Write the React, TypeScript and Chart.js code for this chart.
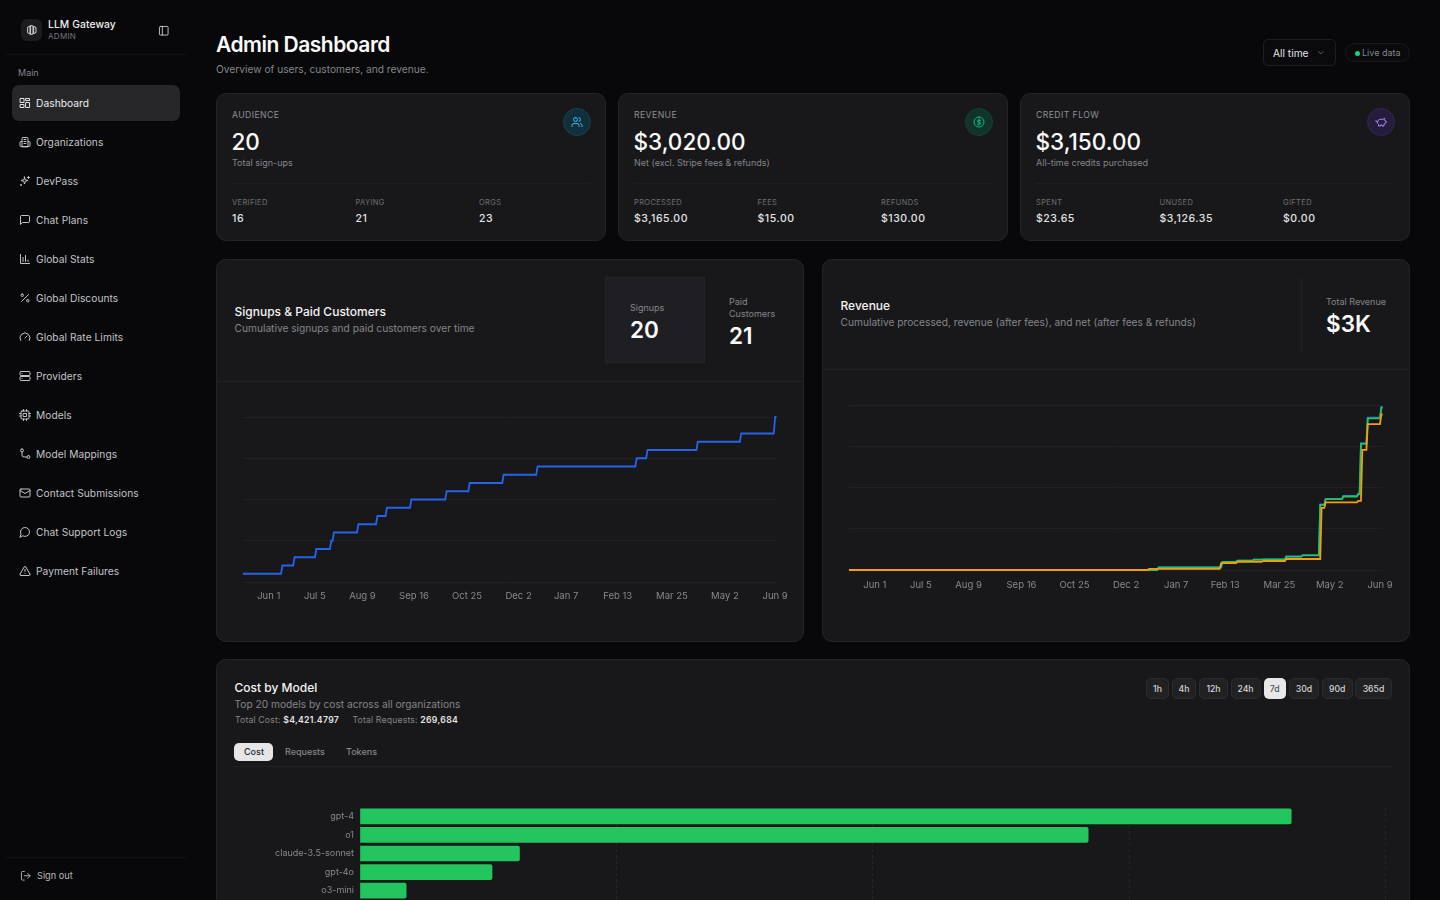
import { useEffect, useRef } from "react"
import { Chart, registerables } from "chart.js"

Chart.register(...registerables)
Chart.defaults.font.family = "Inter, sans-serif"

// x axis of both line charts: days counted from the first date in the range
const rangeDays = 393
const signupTickDays = [19, 53, 88, 126, 165, 203, 238, 276, 316, 355, 392]
const revenueTickDays = [19, 53, 88, 127, 166, 204, 241, 277, 317, 354, 391]
const tickLabels = ["Jun 1", "Jul 5", "Aug 9", "Sep 16", "Oct 25", "Dec 2", "Jan 7", "Feb 13", "Mar 25", "May 2", "Jun 9"]

const signupDays = [29, 38, 54, 65, 67, 85, 99, 106, 124, 150, 167, 192, 217, 290, 298, 335, 367, 392]
const signupValues = [2, 3, 4, 5, 6, 7, 8, 9, 10, 11, 12, 13, 14, 15, 16, 17, 18, 20]

const processedDays = [228, 275, 286, 298, 305, 322, 334, 347, 351, 364, 375, 377, 382, 392]
const processedValues = [50, 156, 182, 203, 208, 262, 288, 1270, 1380, 1435, 1480, 2460, 2955, 3165]

const revenueDays = [228, 275, 286, 298, 305, 322, 334, 347, 351, 364, 375, 377, 382, 392]
const revenueValues = [50, 155, 180, 200, 205, 258, 284, 1263, 1373, 1425, 1470, 2445, 2940, 3150]

const netDays = [221, 274, 286, 305, 322, 348, 351, 375, 378, 382, 392]
const netValues = [20, 135, 160, 175, 213, 1205, 1310, 1340, 2330, 2830, 3020]

const modelNames = ["gpt-4", "o1", "claude-3.5-sonnet", "gpt-4o", "o3-mini"]
const modelCosts = [1816, 1420, 311, 257.5, 90]

const navItems = [
  "Dashboard", "Organizations", "DevPass", "Chat Plans", "Global Stats", "Global Discounts", "Global Rate Limits",
  "Providers", "Models", "Model Mappings", "Contact Submissions", "Chat Support Logs", "Payment Failures",
]

const icons: Record<string, string> = {
  Dashboard: "M3 3h7v8H3z M14 3h7v4h-7z M14 11h7v10h-7z M3 15h7v6H3z",
  Organizations: "M6 21V5a2 2 0 0 1 2-2h8a2 2 0 0 1 2 2v16z M6 11H4a2 2 0 0 0-2 2v6a2 2 0 0 0 2 2h16a2 2 0 0 0 2-2v-6a2 2 0 0 0-2-2h-2 M10 7h4 M10 11h4 M10 15h4",
  DevPass: "M11 4l1.5 5.5L18 11l-5.5 1.5L11 18l-1.5-5.5L4 11l5.5-1.5z M19 3v4 M17 5h4 M4 19v2 M3 20h2",
  "Chat Plans": "M21 15a2 2 0 0 1-2 2H7l-4 4V5a2 2 0 0 1 2-2h14a2 2 0 0 1 2 2z",
  "Global Stats": "M3 3v18h18 M8 17V9 M13 17V5 M18 17v-3",
  "Global Discounts": "M19 5 5 19 M6.5 4a2.5 2.5 0 1 0 0 5a2.5 2.5 0 1 0 0-5z M17.5 15a2.5 2.5 0 1 0 0 5a2.5 2.5 0 1 0 0-5z",
  "Global Rate Limits": "M12 14l4-4 M3.34 19a10 10 0 1 1 17.32 0",
  Providers: "M4 3h16a2 2 0 0 1 2 2v4a2 2 0 0 1-2 2H4a2 2 0 0 1-2-2V5a2 2 0 0 1 2-2z M4 13h16a2 2 0 0 1 2 2v4a2 2 0 0 1-2 2H4a2 2 0 0 1-2-2v-4a2 2 0 0 1 2-2z M6 7h.01 M6 17h.01",
  Models: "M6 4h12a2 2 0 0 1 2 2v12a2 2 0 0 1-2 2H6a2 2 0 0 1-2-2V6a2 2 0 0 1 2-2z M9 9h6v6H9z M9 1v3 M15 1v3 M9 20v3 M15 20v3 M20 9h3 M20 14h3 M1 9h3 M1 14h3",
  "Model Mappings": "M6 2a3 3 0 1 0 0 6a3 3 0 1 0 0-6z M19 15a3 3 0 1 0 0 6a3 3 0 1 0 0-6z M6 8v6a4 4 0 0 0 4 4h6",
  "Contact Submissions": "M4 4h16a2 2 0 0 1 2 2v12a2 2 0 0 1-2 2H4a2 2 0 0 1-2-2V6a2 2 0 0 1 2-2z M22 7l-10 6L2 7",
  "Chat Support Logs": "M7.9 20A9 9 0 1 0 4 16.1L2 22Z",
  "Payment Failures": "M21.73 18l-8-14a2 2 0 0 0-3.46 0l-8 14A2 2 0 0 0 4 21h16a2 2 0 0 0 1.73-3Z M12 9v4 M12 17h.01",
  signOut: "M9 21H5a2 2 0 0 1-2-2V5a2 2 0 0 1 2-2h4 M16 17l5-5-5-5 M21 12H9",
  panel: "M5 3h14a2 2 0 0 1 2 2v14a2 2 0 0 1-2 2H5a2 2 0 0 1-2-2V5a2 2 0 0 1 2-2z M9 3v18",
  chevron: "M6 9l6 6 6-6",
  users: "M9 3a4 4 0 1 0 0 8a4 4 0 1 0 0-8z M2 21v-2a4 4 0 0 1 4-4h6a4 4 0 0 1 4 4v2 M16 3.1a4 4 0 0 1 0 7.8 M22 21v-2a4 4 0 0 0-3-3.9",
  dollar: "M12 2a10 10 0 1 0 0 20a10 10 0 1 0 0-20z M15 8.5h-4a2 2 0 0 0 0 4h2a2 2 0 0 1 0 4H9 M12 18V6",
  piggy: "M19 5c-1.5 0-2.8 1.4-3 2-3.5-1.5-11-.3-11 5 0 1.8 0 3 2 4.5V20h4v-2h3v2h4v-4c1-.5 1.7-1 2-2h2v-4h-2c0-1-.5-1.5-1-2z M2 9v1c0 1.1.9 2 2 2h1",
  logo: "M4 6l4-2v16l-4-2z M10 3l4 1v16l-4 1z M16 5l4 2v10l-4 2z",
}

function stepPoints(days: number[], values: number[], start = 0) {
  const points = [{ x: 0, y: start }]
  let prev = start
  days.forEach((day, i) => {
    points.push({ x: day - 1, y: prev }, { x: day, y: values[i] })
    prev = values[i]
  })
  points.push({ x: rangeDays, y: prev })
  return points
}

const gridColor = "#212124"

function dayAxis(days: number[], height: number, padding: number) {
  return {
    type: "linear",
    min: 0,
    max: rangeDays,
    grid: { display: false, drawTicks: false },
    border: { display: false },
    afterBuildTicks: (scale: any) => {
      scale.ticks = days.map((value) => ({ value }))
    },
    afterFit: (scale: any) => {
      scale.paddingLeft = 0
      scale.paddingRight = 0
      scale.height = height
    },
    ticks: {
      autoSkip: false,
      maxRotation: 0,
      padding,
      color: "#88888e",
      font: { size: 9.5 },
      callback: (value: number) => tickLabels[days.indexOf(value)],
    },
  }
}

function valueAxis(max: number, stepSize: number) {
  return {
    min: 0,
    max,
    border: { display: false },
    grid: { color: gridColor, drawTicks: false, lineWidth: 1 },
    ticks: { display: false, stepSize },
  }
}

const signupsConfig: any = {
  type: "line",
  data: {
    datasets: [
      { label: "Signups", data: stepPoints(signupDays, signupValues, 1), borderColor: "#2563eb", borderWidth: 1.8, pointRadius: 0, clip: false },
    ],
  },
  options: {
    responsive: false,
    animation: false,
    layout: { padding: { left: 26, right: 26.5, top: 35, bottom: 0 } },
    plugins: { legend: { display: false }, tooltip: { enabled: false } },
    scales: { x: dayAxis(signupTickDays, 59, 8), y: valueAxis(20, 5) },
  },
}

const revenueConfig: any = {
  type: "line",
  data: {
    datasets: [
      { label: "Processed", order: 3, data: stepPoints(processedDays, processedValues), borderColor: "#2563eb", borderWidth: 1.8, pointRadius: 0, clip: false },
      { label: "Revenue", order: 2, data: stepPoints(revenueDays, revenueValues), borderColor: "#22c55e", borderWidth: 1.8, pointRadius: 0, clip: false },
      { label: "Net", order: 1, data: stepPoints(netDays, netValues), borderColor: "#f59e0b", borderWidth: 1.8, pointRadius: 0, clip: false },
    ],
  },
  options: {
    responsive: false,
    animation: false,
    layout: { padding: { left: 26, right: 26.3, top: 35, bottom: 0 } },
    plugins: { legend: { display: false }, tooltip: { enabled: false } },
    scales: { x: dayAxis(revenueTickDays, 71, 9), y: valueAxis(3200, 800) },
  },
}

const costConfig: any = {
  type: "bar",
  data: {
    labels: modelNames,
    datasets: [{ label: "Cost", data: modelCosts, backgroundColor: "#22c55e", barThickness: 15, borderRadius: 2 }],
  },
  options: {
    indexAxis: "y",
    responsive: false,
    animation: false,
    layout: { padding: { left: 0, right: 23.4, top: 17, bottom: 0 } },
    plugins: { legend: { display: false }, tooltip: { enabled: false } },
    scales: {
      x: {
        min: 0,
        max: 2000,
        border: { display: false, dash: [3, 3] },
        grid: { color: "#252528", drawTicks: false },
        ticks: { display: false, stepSize: 500 },
        afterFit: (scale: any) => {
          scale.height = 0
          scale.paddingLeft = 0
          scale.paddingRight = 0
        },
      },
      y: {
        border: { display: false },
        grid: { display: false, drawTicks: false },
        ticks: { color: "#88888e", font: { size: 9 }, padding: 6 },
        afterFit: (scale: any) => {
          scale.width = 143
          scale.paddingTop = 0
          scale.paddingBottom = 0
        },
      },
    },
  },
}

function ChartCanvas({ left, top, width, height, config }: { left: number; top: number; width: number; height: number; config: any }) {
  const canvasRef = useRef<HTMLCanvasElement>(null)

  useEffect(() => {
    if (!canvasRef.current) return
    const chart = new Chart(canvasRef.current, config)
    return () => chart.destroy()
  }, [config])

  return <canvas ref={canvasRef} width={width} height={height} style={{ position: "absolute", left, top, width, height, display: "block" }} />
}

function T({ x, y, size = 10, color = "#e4e4e7", weight = 400, spacing = 0, children }: any) {
  return (
    <div
      style={{
        position: "absolute",
        left: x,
        top: y,
        transform: "translateY(-50%)",
        fontSize: size,
        color,
        fontWeight: weight,
        letterSpacing: spacing,
        whiteSpace: "nowrap",
        lineHeight: 1.2,
      }}
    >
      {children}
    </div>
  )
}

function Icon({ name, x, y, size = 12, color = "#c4c4c8" }: any) {
  return (
    <svg
      viewBox="0 0 24 24"
      width={size}
      height={size}
      fill="none"
      stroke={color}
      strokeWidth={2}
      strokeLinecap="round"
      strokeLinejoin="round"
      style={{ position: "absolute", left: x, top: y }}
    >
      <path d={icons[name]} />
    </svg>
  )
}

function Box({ x, y, w, h, bg = "#18181a", border = "#242427", radius = 10 }: any) {
  return (
    <div
      style={{
        position: "absolute",
        left: x,
        top: y,
        width: w,
        height: h,
        boxSizing: "border-box",
        background: bg,
        border: border ? `1px solid ${border}` : "none",
        borderRadius: radius,
      }}
    />
  )
}

function Line({ x, y, w, h = 1, color = "#212124" }: any) {
  return <div style={{ position: "absolute", left: x, top: y, width: w, height: h, background: color }} />
}

function KpiCard({ x, title, value, note, stats, icon, iconColor, iconBg, iconBorder }: any) {
  const col = [16, 139.5, 263]
  return (
    <>
      <Box x={x} y={93} w={390} h={148} />
      <T x={x + 16} y={115} size={8.7} color="#8f8f96" spacing={0.4}>{title}</T>
      <T x={x + 15.5} y={140.5} size={22.5} color="#fafafa" weight={500}>{value}</T>
      <T x={x + 16} y={163} size={9} color="#85858b">{note}</T>
      <Line x={x + 16} y={183} w={358} color="#1f1f22" />
      {stats.map((s: string[], i: number) => (
        <div key={s[0]}>
          <T x={x + col[i]} y={202} size={7.5} color="#6f6f76" spacing={0.35}>{s[0]}</T>
          <T x={x + col[i]} y={218.5} size={10.5} color="#e4e4e7" weight={500} spacing={0.55}>{s[1]}</T>
        </div>
      ))}
      <Box x={x + 347} y={108} w={28} h={28} bg={iconBg} border={iconBorder} radius={14} />
      <Icon name={icon} x={x + 355} y={116} size={12} color={iconColor} />
    </>
  )
}

const rangeButtons = [
  ["1h", 1146, 23], ["4h", 1172, 24], ["12h", 1199, 29], ["24h", 1230.5, 30],
  ["7d", 1263.5, 22.5], ["30d", 1289, 30], ["90d", 1322, 30.5], ["365d", 1355, 37],
] as const

export default function App() {
  return (
    <div
      style={{
        position: "fixed",
        left: 0,
        top: 0,
        width: 1440,
        height: 900,
        overflow: "hidden",
        background: "#08080a",
        fontFamily: "Inter, sans-serif",
      }}
    >
      {/* sidebar */}
      <Box x={21} y={19} w={21} h={22} bg="#1c1c1f" border={null} radius={6} />
      <Icon name="logo" x={25.5} y={24} size={12} color="#d4d4d8" />
      <T x={48} y={24} size={10.3} color="#f0f0f2" weight={500} spacing={0.1}>LLM Gateway</T>
      <T x={48} y={36.5} size={8} color="#75757c" spacing={0.3}>ADMIN</T>
      <Icon name="panel" x={158} y={24.5} size={11.5} color="#c4c4c8" />
      <Line x={6} y={54} w={180} color="#131315" />
      <T x={18} y={73} size={9} color="#85858b">Main</T>
      <Box x={12} y={85} w={168} h={36} bg="#27272a" border={null} radius={7} />
      {navItems.map((item, i) => (
        <div key={item}>
          <Icon name={item} x={18.5} y={97 + i * 39} size={12} color={i === 0 ? "#e4e4e7" : "#c4c4c8"} />
          <T x={36} y={103 + i * 39} size={10.2} color={i === 0 ? "#ececee" : "#c4c4c8"} spacing={0.06}>{item}</T>
        </div>
      ))}
      <Line x={6} y={857} w={180} color="#131315" />
      <Icon name="signOut" x={19.5} y={870} size={11.5} color="#b4b4ba" />
      <T x={37} y={876} size={9.2} color="#b4b4ba">Sign out</T>

      {/* page header */}
      <T x={216} y={44.5} size={21} color="#fafafa" weight={600} spacing={-0.5}>Admin Dashboard</T>
      <T x={216} y={68.5} size={10.2} color="#85858b">Overview of users, customers, and revenue.</T>
      <Box x={1263} y={39} w={73} h={27} bg="#0a0a0c" border="#1e1e21" radius={5} />
      <T x={1273} y={53} size={10.2} color="#e4e4e7">All time</T>
      <Icon name="chevron" x={1315.5} y={47.5} size={9.5} color="#75757c" />
      <Box x={1345} y={43} w={65} h={19} bg="#0a0a0c" border="#1a1a1d" radius={10} />
      <div style={{ position: "absolute", left: 1354.5, top: 50.5, width: 5, height: 5, borderRadius: 3, background: "#10d58a" }} />
      <T x={1362} y={53} size={9} color="#85858b">Live data</T>

      {/* stat cards */}
      <KpiCard
        x={216}
        title="AUDIENCE"
        value="20"
        note="Total sign-ups"
        stats={[["VERIFIED", "16"], ["PAYING", "21"], ["ORGS", "23"]]}
        icon="users"
        iconColor="#38bdf8"
        iconBg="#12303b"
        iconBorder="#17404f"
      />
      <KpiCard
        x={618}
        title="REVENUE"
        value="$3,020.00"
        note="Net (excl. Stripe fees & refunds)"
        stats={[["PROCESSED", "$3,165.00"], ["FEES", "$15.00"], ["REFUNDS", "$130.00"]]}
        icon="dollar"
        iconColor="#10b981"
        iconBg="#10332a"
        iconBorder="#144235"
      />
      <KpiCard
        x={1020}
        title="CREDIT FLOW"
        value="$3,150.00"
        note="All-time credits purchased"
        stats={[["SPENT", "$23.65"], ["UNUSED", "$3,126.35"], ["GIFTED", "$0.00"]]}
        icon="piggy"
        iconColor="#a78bfa"
        iconBg="#261d3d"
        iconBorder="#33284f"
      />

      {/* signups chart */}
      <Box x={216} y={259} w={588} h={383} />
      <Line x={217} y={381} w={586} />
      <T x={234.5} y={312} size={12} color="#f4f4f5" weight={500}>Signups &amp; Paid Customers</T>
      <T x={234.5} y={328} size={10.2} color="#85858b">Cumulative signups and paid customers over time</T>
      <Box x={605} y={277} w={100} h={86} bg="#1f1f23" border="#242428" radius={0} />
      <T x={630} y={308} size={9} color="#85858b">Signups</T>
      <T x={630} y={328.5} size={22.5} color="#fafafa" weight={600}>20</T>
      <T x={729} y={302} size={9} color="#85858b">Paid</T>
      <T x={729} y={314} size={9} color="#85858b">Customers</T>
      <T x={729} y={334.5} size={22.5} color="#fafafa" weight={600}>21</T>
      <ChartCanvas left={217} top={382} width={586} height={259} config={signupsConfig} />

      {/* revenue chart */}
      <Box x={822} y={259} w={588} h={383} />
      <Line x={823} y={369} w={586} />
      <Line x={1301} y={277} w={1} h={74} />
      <T x={840.5} y={306} size={12} color="#f4f4f5" weight={500}>Revenue</T>
      <T x={840.5} y={322} size={10.2} color="#85858b">Cumulative processed, revenue (after fees), and net (after fees &amp; refunds)</T>
      <T x={1326} y={302} size={9} color="#85858b">Total Revenue</T>
      <T x={1326} y={322.5} size={22.5} color="#fafafa" weight={600}>$3K</T>
      <ChartCanvas left={823} top={370} width={586} height={271} config={revenueConfig} />

      {/* cost by model, runs past the bottom of the page */}
      <Box x={216} y={659} w={1194} h={300} />
      <T x={234.5} y={687.5} size={12} color="#f4f4f5" weight={500}>Cost by Model</T>
      <T x={234.5} y={704} size={10.2} color="#85858b">Top 20 models by cost across all organizations</T>
      <T x={235} y={720} size={8.7} color="#85858b" spacing={0.15}>
        Total Cost: <b style={{ color: "#e4e4e7", fontWeight: 600, letterSpacing: 0.3 }}>$4,421.4797</b>
      </T>
      <T x={352.5} y={720} size={8.7} color="#85858b" spacing={0.15}>
        Total Requests: <b style={{ color: "#e4e4e7", fontWeight: 600, letterSpacing: 0.3 }}>269,684</b>
      </T>
      <Box x={234} y={742.5} w={39} h={18} bg="#e6e6e8" border={null} radius={5} />
      <T x={244} y={752} size={9} color="#27272a" weight={500}>Cost</T>
      <T x={285} y={752} size={9} color="#85858b" weight={500}>Requests</T>
      <T x={346} y={752} size={9} color="#85858b" weight={500}>Tokens</T>
      <Line x={234} y={766} w={1158} />
      {rangeButtons.map(([label, x, w]) => (
        <div key={label}>
          <Box x={x} y={678} w={w} h={21} bg={label === "7d" ? "#e8e8ea" : "#212124"} border={label === "7d" ? null : "#2c2c30"} radius={5} />
          <div
            style={{
              position: "absolute",
              left: x,
              width: w,
              top: 683.5,
              textAlign: "center",
              fontSize: 8.7,
              lineHeight: "11px",
              color: label === "7d" ? "#52525b" : "#d4d4d8",
              fontWeight: 500,
            }}
          >
            {label}
          </div>
        </div>
      ))}
      <ChartCanvas left={217} top={790} width={1192} height={110} config={costConfig} />
    </div>
  )
}
